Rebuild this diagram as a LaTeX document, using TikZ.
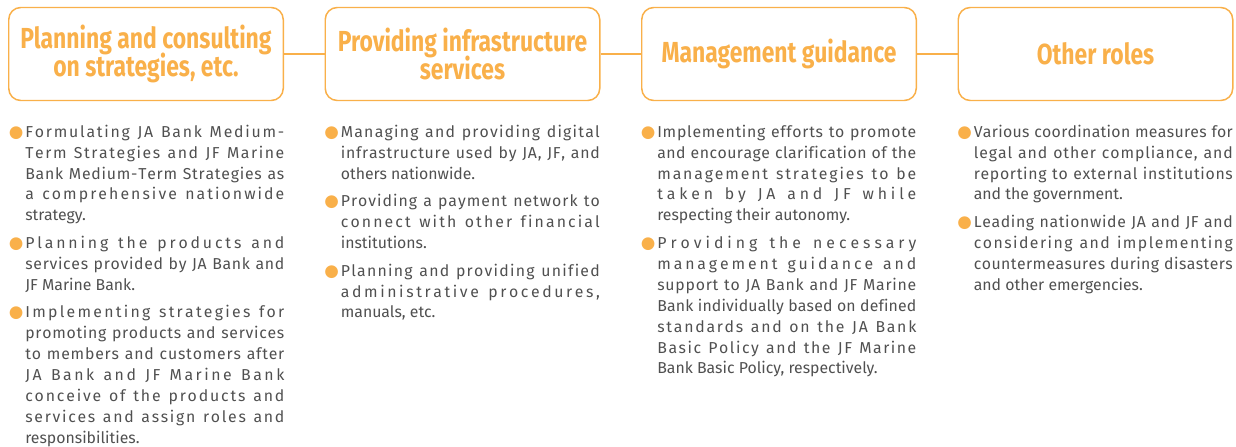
\documentclass[tikz,border=0pt]{standalone}
\usepackage{fontspec}
\setmainfont{Fira Sans}
\newfontfamily\headfont[FakeStretch=0.79]{Fira Sans}
\newfontfamily\dotfont{DejaVu Sans}
\usetikzlibrary{positioning}

\definecolor{roleorange}{HTML}{F9B04A}
\definecolor{roletext}{HTML}{505050}

% spread one line over the width, letter by letter
\ExplSyntaxOn
\cs_new_protected:Npn \fitline #1
 {
  \str_map_inline:nn {#1}
   {
    \str_if_eq:nnTF {##1} {~}
     { \nobreak \hskip \fontdimen2\font plus 1fil \relax }
     { ##1 \nobreak \hskip 0pt plus 1fil \relax }
   }
  \unskip
 }
\ExplSyntaxOff
\newcommand\fl[1]{\fitline{#1}\linebreak}
\newcommand\bul{\noindent\llap{{\dotfont\fontsize{9.5}{9.5}\selectfont\color{roleorange}●}\hspace{0.04cm}}\strut}
\newcommand\headstyle{\headfont\bfseries\fontsize{16.5}{15.8}\selectfont\lineskiplimit -20pt\relax}

\tikzset{
rolebox/.style={draw=roleorange, line width=0.85pt, rounded corners=0.24cm, minimum width=5.49cm, minimum height=1.86cm, align=center, text=roleorange, inner sep=0pt, font=\headstyle},
roleitem/.style={text width=5.18cm, align=justify, inner sep=0pt, text=roletext, font=\fontsize{9}{11.9}\selectfont},
roleline/.style={draw=roleorange, line width=0.85pt}
}

\begin{document}
\begin{tikzpicture}
\useasboundingbox (0,0) rectangle (24.72,-8.92);

% headings
\node[rolebox] (plan) at (2.92,-1.08) {Planning and consulting\\on strategies, etc.};
\node[rolebox, right=0.81cm of plan] (infra) {Providing infrastructure\\services};
\node[rolebox, right=0.81cm of infra] (guide) {Management guidance};
\node[rolebox, right=0.81cm of guide] (other) {Other roles};

\draw[roleline] (plan)--(infra);
\draw[roleline] (infra)--(guide);
\draw[roleline] (guide)--(other);

% planning
\node[roleitem, below right=0.42cm and 0.34cm of plan.south west] (p1) {\bul\fl{Formulating JA Bank Medium-}\fl{Term Strategies and JF Marine}\fl{Bank Medium-Term Strategies as}\fl{a comprehensive nationwide}strategy.\strut};
\node[roleitem, below=0.12cm of p1] (p2) {\bul\fl{Planning the products and}\fl{services provided by JA Bank and}JF Marine Bank.\strut};
\node[roleitem, below=0.12cm of p2] (p3) {\bul\fl{Implementing strategies for}\fl{promoting products and services}\fl{to members and customers after}\fl{JA Bank and JF Marine Bank}\fl{conceive of the products and}\fl{services and assign roles and}responsibilities.\strut};

% infrastructure
\node[roleitem, below right=0.42cm and 0.32cm of infra.south west] (i1) {\bul\fl{Managing and providing digital}\fl{infrastructure used by JA, JF, and}others nationwide.\strut};
\node[roleitem, below=0.12cm of i1] (i2) {\bul\fl{Providing a payment network to}\fl{connect with other financial}institutions.\strut};
\node[roleitem, below=0.12cm of i2] (i3) {\bul\fl{Planning and providing unified}\fl{administrative procedures,}manuals, etc.\strut};

% guidance
\node[roleitem, below right=0.42cm and 0.32cm of guide.south west] (g1) {\bul\fl{Implementing efforts to promote}\fl{and encourage clarification of the}\fl{management strategies to be}\fl{taken by JA and JF while}respecting their autonomy.\strut};
\node[roleitem, below=0.12cm of g1] (g2) {\bul\fl{Providing the necessary}\fl{management guidance and}\fl{support to JA Bank and JF Marine}\fl{Bank individually based on defined}\fl{standards and on the JA Bank}\fl{Basic Policy and the JF Marine}Bank Basic Policy, respectively.\strut};

% other
\node[roleitem, below right=0.42cm and 0.32cm of other.south west] (o1) {\bul\fl{Various coordination measures for}\fl{legal and other compliance, and}\fl{reporting to external institutions}and the government.\strut};
\node[roleitem, below=0.12cm of o1] (o2) {\bul\fl{Leading nationwide JA and JF and}\fl{considering and implementing}\fl{countermeasures during disasters}and other emergencies.\strut};

\end{tikzpicture}
\end{document}
